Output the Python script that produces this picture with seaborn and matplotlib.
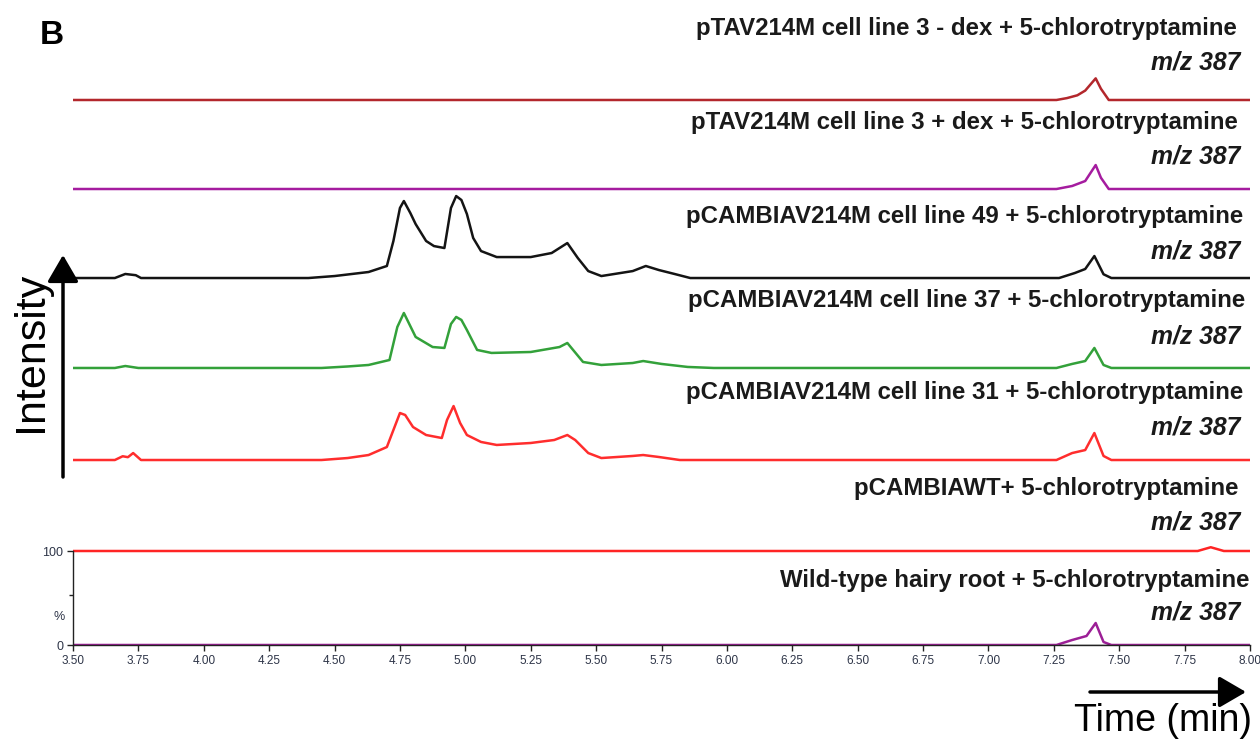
import numpy as np
import pandas as pd
import matplotlib
matplotlib.use("Agg")
import matplotlib.pyplot as plt
import seaborn as sns

# ---- chromatogram data (retention time in min, signal in % of panel scale) ----
labels = [
    "pTAV214M cell line 3 - dex + 5-chlorotryptamine",
    "pTAV214M cell line 3 + dex + 5-chlorotryptamine",
    "pCAMBIAV214M cell line 49 + 5-chlorotryptamine",
    "pCAMBIAV214M cell line 37 + 5-chlorotryptamine",
    "pCAMBIAV214M cell line 31 + 5-chlorotryptamine",
    "pCAMBIAWT+ 5-chlorotryptamine",
    "Wild-type hairy root + 5-chlorotryptamine",
]
ion_label = "m/z 387"

t_dex_minus = [3.50, 7.26, 7.30, 7.34, 7.37, 7.41, 7.43, 7.46, 8.00]
s_dex_minus = [0, 0, 2, 5, 10, 23, 12, 0, 0]

t_dex_plus = [3.50, 7.26, 7.32, 7.37, 7.41, 7.43, 7.46, 8.00]
s_dex_plus = [0, 0, 3.2, 8.5, 25.5, 12, 0, 0]

t_line49 = [3.50, 3.66, 3.70, 3.74, 3.76, 4.40, 4.50, 4.63, 4.70, 4.725, 4.75, 4.765,
            4.79, 4.81, 4.85, 4.88, 4.92, 4.945, 4.965, 4.985, 5.006, 5.03, 5.06,
            5.12, 5.25, 5.33, 5.39, 5.43, 5.47, 5.52, 5.64, 5.69, 5.74, 5.80, 5.86,
            7.27, 7.33, 7.37, 7.405, 7.44, 7.47, 8.00]
s_line49 = [0, 0, 4.3, 3, 0, 0, 2.1, 6.4, 12.8, 39.4, 74.5, 81.9,
            69, 57.4, 39.4, 34, 31.9, 74.5, 87.2, 83, 68.1, 42.6, 28.7,
            22.3, 22.3, 26.6, 37.2, 21.3, 7.4, 2.1, 7.4, 12.8, 8.5, 4.3, 0,
            0, 5.3, 9.6, 23.4, 4, 0, 0]

t_line37 = [3.50, 3.66, 3.70, 3.75, 4.45, 4.55, 4.63, 4.71, 4.74, 4.765, 4.81,
            4.875, 4.92, 4.945, 4.965, 4.985, 5.006, 5.045, 5.10, 5.25, 5.36,
            5.39, 5.45, 5.52, 5.64, 5.68, 5.75, 5.85, 5.95,
            7.26, 7.32, 7.37, 7.405, 7.44, 7.47, 8.00]
s_line37 = [0, 0, 2.1, 0, 0, 1.6, 3.2, 8.5, 43.6, 58.5, 33,
            22.3, 21.3, 46.8, 54.3, 51.1, 40.4, 19.2, 16, 17, 22.3,
            26.6, 6.4, 3.2, 5.3, 7.4, 4.3, 1.1, 0,
            0, 4.3, 7.4, 21.3, 3.2, 0, 0]

t_line31 = [3.50, 3.66, 3.69, 3.71, 3.73, 3.76, 4.45, 4.55, 4.63, 4.70, 4.725,
            4.75, 4.77, 4.80, 4.85, 4.91, 4.93, 4.955, 4.98, 5.006, 5.06, 5.12,
            5.25, 5.34, 5.39, 5.42, 5.47, 5.52, 5.64, 5.68, 5.74, 5.82,
            7.26, 7.32, 7.37, 7.405, 7.44, 7.47, 8.00]
s_line31 = [0, 0, 4, 3, 7.4, 0, 0, 2.1, 5.3, 13.8, 31.9,
            50, 47.9, 35.1, 26.6, 23.4, 42.6, 57.4, 39.4, 26.6, 19.2, 16,
            18.1, 21.3, 26.6, 21.3, 7.4, 2.1, 4.3, 5.3, 3.2, 0,
            0, 7.4, 10.6, 28.7, 4.3, 0, 0]

t_wt_vector = [3.50, 7.80, 7.85, 7.90, 8.00]
s_wt_vector = [100, 100, 104, 100, 100]

t_wt_root = [3.50, 7.26, 7.32, 7.375, 7.41, 7.44, 7.47, 8.00]
s_wt_root = [0, 0, 5.3, 9.6, 23.4, 3.2, 0, 0]

# integrated baseline under the wild-type peak
t_integration = [7.27, 7.46]
s_integration = [0, 0]

x_ticks = [3.50, 3.75, 4.00, 4.25, 4.50, 4.75, 5.00, 5.25, 5.50, 5.75,
           6.00, 6.25, 6.50, 6.75, 7.00, 7.25, 7.50, 7.75, 8.00]

# ---- layout ----
W, H = 1260, 742
series = [
    (t_dex_minus, s_dex_minus, 579.8, "#b3272c"),
    (t_dex_plus, s_dex_plus, 485.1, "#a51c9f"),
    (t_line49, s_line49, 390.4, "#141414"),
    (t_line37, s_line37, 294.7, "#33a13a"),
    (t_line31, s_line31, 196.8, "#ff2d2d"),
    (t_wt_vector, s_wt_vector, 0.0, "#ff2424"),
    (t_wt_root, s_wt_root, 0.0, "#9c1f96"),
]
title_pos = [(1237, 29), (1238, 122), (1243, 216), (1245, 301),
             (1243, 393), (1238, 489), (1250, 581)]
ion_pos = [(1240, 63), (1240, 156), (1240, 252), (1240, 337),
           (1240, 428), (1240, 523), (1240, 613)]

sns.set_style("white")
plt.rcParams["font.family"] = ["Liberation Sans", "DejaVu Sans"]

fig = plt.figure(figsize=(W / 100, H / 100), dpi=100)
ax_left, ax_right, ax_bottom_px, ax_top_px = 73, 1250, 645, 40
ax = fig.add_axes([ax_left / W, 1 - ax_bottom_px / H,
                   (ax_right - ax_left) / W, (ax_bottom_px - ax_top_px) / H])
ax.patch.set_alpha(0)

for t, s, offset, color in series:
    df = pd.DataFrame({"time": t, "signal": np.asarray(s, dtype=float) + offset})
    sns.lineplot(data=df, x="time", y="signal", ax=ax, color=color, lw=1.8,
                 estimator=None, errorbar=None, sort=False)

df_int = pd.DataFrame({"time": t_integration, "signal": s_integration})
sns.lineplot(data=df_int, x="time", y="signal", ax=ax, color="black", lw=1.0,
             estimator=None, errorbar=None)

ax.set_xlim(3.5, 8.0)
ax.set_ylim(0, (ax_bottom_px - ax_top_px) / 0.94)
ax.set_xlabel("")
ax.set_ylabel("")

for side in ("top", "right"):
    ax.spines[side].set_visible(False)
ax.spines["left"].set_bounds(0, 100)
for side in ("left", "bottom"):
    ax.spines[side].set_color("#222222")
    ax.spines[side].set_linewidth(1.0)

ax.set_xticks(x_ticks)
ax.set_xticklabels([f"{v:.2f}" for v in x_ticks], fontsize=8.5, color="#2e3548")
ax.set_yticks([0, 100])
ax.set_yticklabels(["0", "100"], fontsize=9, color="#2e3548")
ax.set_yticks([53], minor=True)
ax.tick_params(axis="both", which="both", direction="out", length=4,
               width=1.0, color="#222222", pad=3, left=True, bottom=True)
ax.tick_params(axis="y", which="minor", length=3)
ax.text(-0.012, 30, "%", transform=ax.get_yaxis_transform(), ha="center",
        va="center", fontsize=9, color="#2e3548")

# ---- trace annotations ----
for lab, (x, y) in zip(labels, title_pos):
    fig.text(x / W, 1 - y / H, lab, ha="right", va="center",
             fontsize=17.3, fontweight="bold", color="#1a1a1a")
for x, y in ion_pos:
    fig.text(x / W, 1 - y / H, ion_label, ha="right", va="center",
             fontsize=17.8, fontweight="bold", fontstyle="italic", color="#1a1a1a")

fig.text(40 / W, 1 - 36 / H, "B", ha="left", va="center",
         fontsize=24, fontweight="bold", color="black")
fig.text(31 / W, 1 - 352 / H, "Intensity", ha="center", va="center",
         rotation=90, fontsize=31, color="black")
fig.text(1252 / W, 1 - 721 / H, "Time (min)", ha="right", va="center",
         fontsize=27, color="black")

arrow = dict(arrowstyle="-|>,head_length=0.55,head_width=0.32", lw=2.5,
             color="black", mutation_scale=30, shrinkA=0, shrinkB=0)
fig.add_artist(plt.Annotation("", xy=(63 / W, 1 - 255 / H),
                              xytext=(63 / W, 1 - 477 / H),
                              xycoords="figure fraction", arrowprops=arrow))
fig.add_artist(plt.Annotation("", xy=(1246 / W, 1 - 692 / H),
                              xytext=(1090 / W, 1 - 692 / H),
                              xycoords="figure fraction", arrowprops=arrow))

fig.savefig("out.png", dpi=100)
